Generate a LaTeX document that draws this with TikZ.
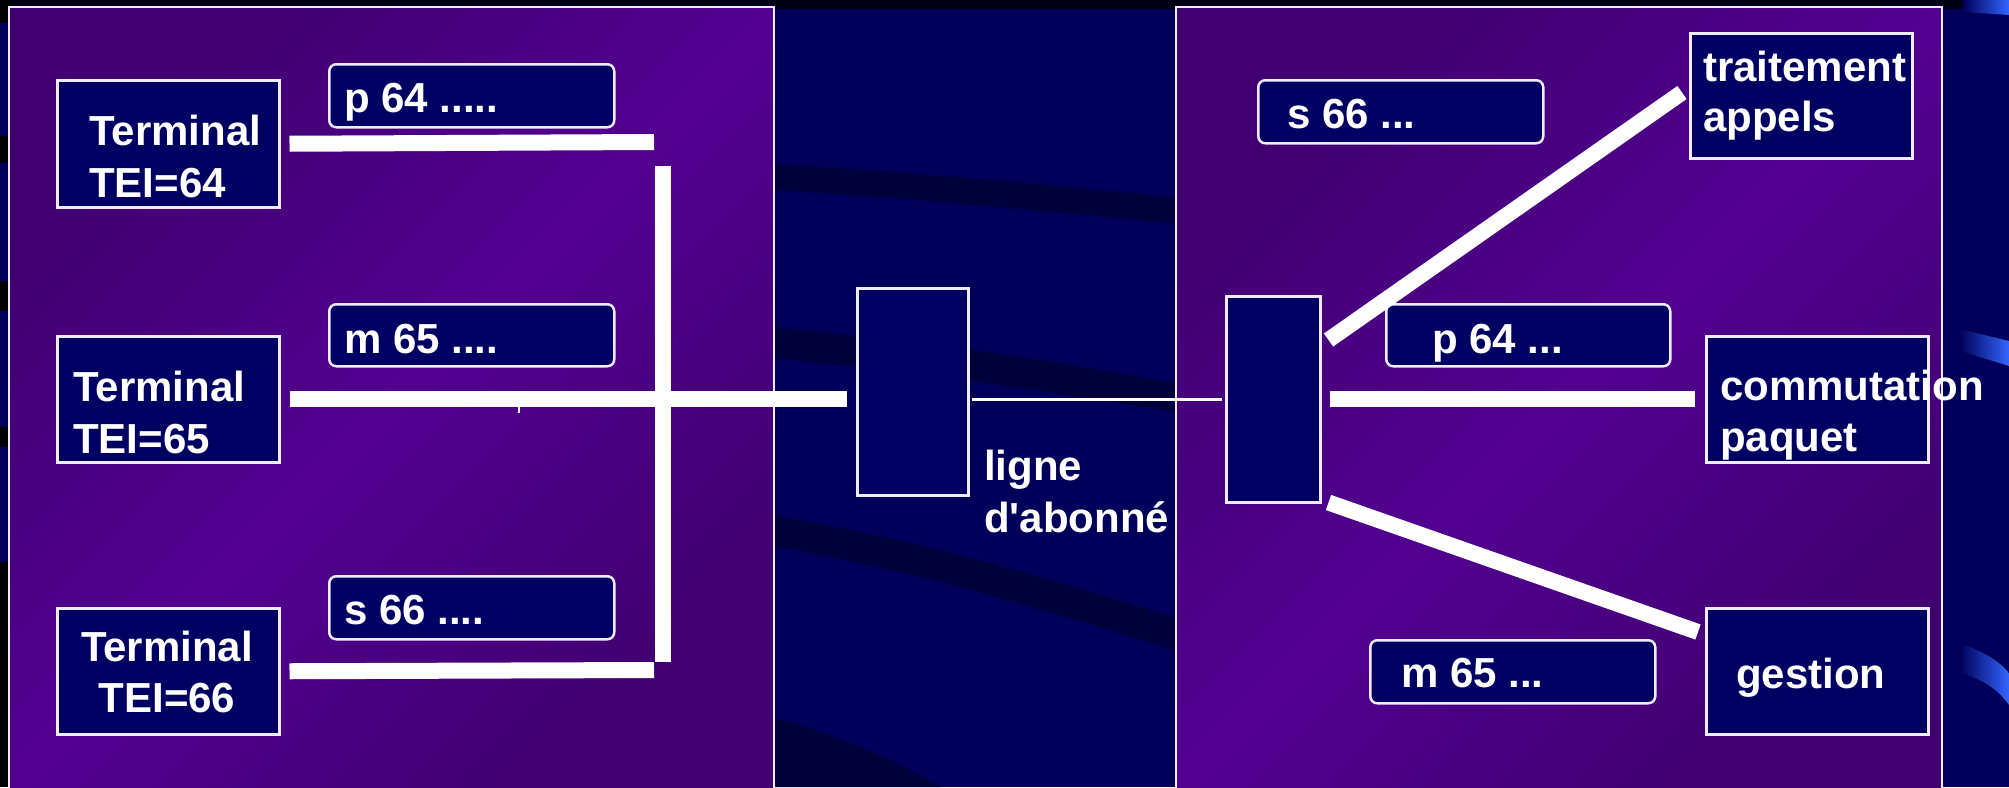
\documentclass[tikz,border=0pt]{standalone}
\usepackage{fontspec}
\setmainfont{Liberation Sans}[Ligatures=TeXOff]
\usetikzlibrary{calc}
\definecolor{bgnavy}{RGB}{0,0,90}
\definecolor{bgdark}{RGB}{0,0,58}
\definecolor{bgblack}{RGB}{0,0,20}
\definecolor{boxnavy}{RGB}{0,0,98}
\definecolor{purpA}{RGB}{64,0,112}
\definecolor{purpB}{RGB}{82,0,144}
\definecolor{swblue}{RGB}{51,102,255}
\definecolor{edge}{RGB}{240,236,255}
\tikzset{
  box/.style={draw=edge, line width=2.5pt, fill=boxnavy, inner sep=0pt, anchor=north west},
  tag/.style={box, rounded corners=7pt},
  txt/.style={text=white, font=\fontsize{42}{50}\selectfont\bfseries, anchor=base west, inner sep=0pt},
  ctxt/.style={txt, anchor=base},
  bar/.style={draw=white, line width=16pt},
  thinline/.style={draw=white, line width=3pt},
  frame/.style={draw=edge, line width=2.5pt, top color=purpA, bottom color=purpA, middle color=purpB, shading angle=45},
  band/.style={fill=bgdark},
  swoosh/.style={left color=bgnavy, right color=swblue},
}
\begin{document}
\begin{tikzpicture}[x=1pt,y=-1pt]
\useasboundingbox (0,0) rectangle (2009,787);
% background
\fill[bgnavy] (0,0) rectangle (2009,787);
\fill[bgblack] (0,0) rectangle (2009,9);
\foreach \a/\b in {0/23,136/163,281/311,427/447,562/787}{\fill[black] (0,\a) rectangle (9,\b);}
\fill[band] (700,160) .. controls (900,170) and (1050,185) .. (1200,200) -- (1200,226) .. controls (1050,212) and (900,196) .. (700,186) -- cycle;
\fill[band] (700,322) .. controls (900,335) and (1050,360) .. (1200,388) -- (1200,416) .. controls (1050,392) and (900,368) .. (700,352) -- cycle;
\fill[band] (700,505) .. controls (900,530) and (1050,580) .. (1200,625) -- (1200,658) .. controls (1050,612) and (900,562) .. (700,535) -- cycle;
\fill[band] (700,700) .. controls (800,720) and (880,750) .. (940,787) -- (700,787) -- cycle;
\fill[swoosh] (1963,0) -- (2009,0) -- (2009,15) -- (1963,12) -- cycle;
\fill[swoosh] (1960,329) -- (2009,341) -- (2009,366) -- (1960,351) -- cycle;
\fill[swoosh] (1960,643) .. controls (1985,652) and (2000,662) .. (2009,673) -- (2009,705) .. controls (1998,690) and (1985,680) .. (1960,673) -- cycle;
% frames
\path[frame] (9,7) rectangle (774,800);
\path[frame] (1176,7) rectangle (1942,800);
% left terminals
\node[box, minimum width=222pt, minimum height=127pt] (t64) at (56,79) {};
\node[box, minimum width=222pt, minimum height=126pt] (t65) at (56,335) {};
\node[box, minimum width=222pt, minimum height=126pt] (t66) at (56,607) {};
\node[txt] (t64a) at (89,145) {Terminal};
\node[txt] (t64b) at (89,197) {TEI=64};
\node[txt] (t65a) at (73,401) {Terminal};
\node[txt] (t65b) at (73,453) {TEI=65};
\node[ctxt] (t66a) at (167,661) {Terminal};
\node[ctxt] (t66b) at (167,712) {TEI=66};
% left tags
\node[tag, minimum width=285pt, minimum height=63pt] (lp) at (328,63) {};
\node[tag, minimum width=285pt, minimum height=62pt] (lm) at (328,303) {};
\node[tag, minimum width=285pt, minimum height=63pt] (ls) at (328,575) {};
\node[txt] (lpt) at (344,112) {p 64 .....};
\node[txt] (lmt) at (344,353) {m 65 ....};
\node[txt] (lst) at (344,624) {s 66 ....};
% central boxes
\node[box, minimum width=111pt, minimum height=207pt] (cl) at (856,287) {};
\node[box, minimum width=94pt, minimum height=206pt] (cr) at (1225,295) {};
\node[txt] (lg1) at (984,480) {ligne};
\node[txt] (lg2) at (984,532) {d'abonné};
% right boxes
\node[box, minimum width=222pt, minimum height=125pt] (tr) at (1689,32) {};
\node[box, minimum width=222pt, minimum height=126pt] (cp) at (1705,335) {};
\node[box, minimum width=222pt, minimum height=126pt] (ge) at (1705,607) {};
\node[txt] (tr1) at (1703,81) {traitement};
\node[txt] (tr2) at (1703,131) {appels};
\node[txt] (cp1) at (1720,400) {commutation};
\node[txt] (cp2) at (1720,451) {paquet};
\node[txt] (ge1) at (1736,688) {gestion};
% right tags
\node[tag, minimum width=285pt, minimum height=63pt] (rs) at (1257,79) {};
\node[tag, minimum width=284pt, minimum height=62pt] (rp) at (1385,303) {};
\node[tag, minimum width=285pt, minimum height=63pt] (rm) at (1369,639) {};
\node[txt] (rst) at (1287,128) {s 66 ...};
\node[txt] (rpt) at (1432,353) {p 64 ...};
\node[txt] (rmt) at (1401,687) {m 65 ...};
% connectors
\coordinate (j64) at (654,142);
\coordinate (vtop) at (663,166);
\coordinate (vbot) at (663,662);
\coordinate (j66) at (654,670);
\draw[bar] ([xshift=9pt]t64.east) -- (j64);
\draw[bar] (vtop) -- (vbot);
\draw[bar] ([xshift=9pt]t66.east) -- (j66);
\draw[bar] ([xshift=9pt]t65.east) -- ($(t65.east -| cl.west)+(-9,0)$);
\coordinate (tick) at (519,413);
\draw[draw=white, line width=1.5pt] (519,406) -- (tick);
\draw[thinline] ($(t65.east -| cl.east)+(2,0)$) -- ($(t65.east -| cr.west)+(-3,0)$);
\draw[bar] ($(t65.east -| cr.east)+(8,0)$) -- ($(cp.west)+(-10,0)$);
\draw[bar] ($(cr.north east)+(7,45)$) -- ($(tr.south west)+(-7,-67)$);
\draw[bar] ($(cr.south east)+(7,-1)$) -- ($(ge.north west)+(-7,25)$);
\end{tikzpicture}
\end{document}
